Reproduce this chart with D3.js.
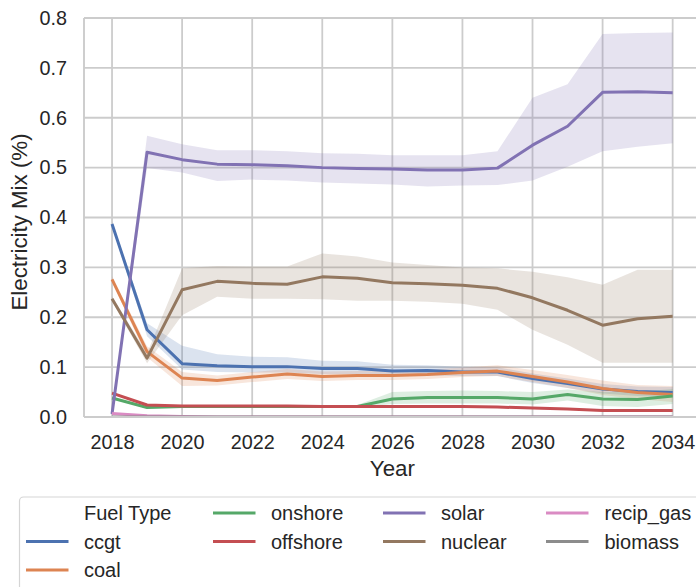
<!DOCTYPE html>
<html>
<head>
<meta charset="utf-8">
<script src="https://cdn.jsdelivr.net/npm/d3@7"></script>
<style>
  html, body { margin: 0; padding: 0; background: #fff; }
  svg { display: block; font-family: "Liberation Sans", Arial, sans-serif; }
</style>
</head>
<body>
<svg id="chart" width="696" height="587"></svg>
<script>
const years = [2018,2019,2020,2021,2022,2023,2024,2025,2026,2027,2028,2029,2030,2031,2032,2033,2034];
const fuelTypes = ["ccgt","coal","onshore","offshore","solar","nuclear","recip_gas","biomass"];
const fuelColors = ["#4c72b0","#dd8452","#55a868","#c44e52","#8172b3","#937860","#da8bc3","#8c8c8c"];

const ccgt    = [0.387,0.175,0.107,0.103,0.101,0.101,0.097,0.097,0.092,0.093,0.090,0.090,0.077,0.067,0.056,0.051,0.049];
const ccgtLo  = [0.382,0.162,0.095,0.090,0.089,0.089,0.086,0.086,0.082,0.083,0.082,0.082,0.068,0.058,0.047,0.042,0.040];
const ccgtHi  = [0.392,0.188,0.143,0.126,0.121,0.120,0.113,0.112,0.105,0.104,0.101,0.100,0.087,0.077,0.066,0.061,0.060];

const coal    = [0.276,0.131,0.078,0.073,0.080,0.086,0.081,0.083,0.083,0.085,0.089,0.092,0.081,0.070,0.057,0.049,0.045];
const coalLo  = [0.270,0.120,0.062,0.063,0.070,0.076,0.072,0.074,0.074,0.076,0.080,0.082,0.070,0.058,0.044,0.036,0.030];
const coalHi  = [0.282,0.142,0.090,0.083,0.090,0.096,0.091,0.092,0.092,0.095,0.099,0.104,0.094,0.084,0.073,0.064,0.062];

const onshore   = [0.038,0.019,0.021,0.021,0.021,0.021,0.021,0.021,0.036,0.039,0.039,0.039,0.036,0.045,0.036,0.035,0.042];
const onshoreLo = [0.036,0.017,0.019,0.019,0.019,0.019,0.019,0.019,0.026,0.027,0.027,0.027,0.025,0.033,0.022,0.020,0.026];
const onshoreHi = [0.040,0.021,0.023,0.023,0.023,0.023,0.023,0.024,0.050,0.052,0.053,0.052,0.050,0.055,0.050,0.050,0.056];

const offshore   = [0.048,0.024,0.022,0.022,0.022,0.022,0.021,0.021,0.021,0.021,0.021,0.020,0.018,0.016,0.013,0.013,0.013];
const offshoreLo = [0.046,0.022,0.020,0.020,0.020,0.020,0.019,0.019,0.019,0.019,0.019,0.018,0.016,0.014,0.011,0.011,0.011];
const offshoreHi = [0.050,0.026,0.024,0.024,0.024,0.024,0.023,0.023,0.023,0.023,0.023,0.022,0.020,0.018,0.015,0.015,0.015];

const solar   = [0.006,0.531,0.516,0.507,0.506,0.504,0.500,0.498,0.497,0.495,0.495,0.499,0.545,0.583,0.651,0.652,0.650];
const solarLo = [0.004,0.499,0.490,0.473,0.476,0.474,0.470,0.468,0.466,0.462,0.464,0.465,0.474,0.502,0.533,0.542,0.549];
const solarHi = [0.008,0.564,0.547,0.535,0.535,0.533,0.529,0.528,0.525,0.525,0.525,0.533,0.640,0.667,0.768,0.770,0.771];

const nuclear   = [0.237,0.118,0.255,0.272,0.268,0.266,0.281,0.278,0.269,0.267,0.264,0.258,0.239,0.214,0.184,0.197,0.202];
const nuclearLo = [0.232,0.108,0.204,0.241,0.237,0.237,0.236,0.233,0.233,0.231,0.227,0.215,0.175,0.145,0.109,0.109,0.109];
const nuclearHi = [0.242,0.128,0.298,0.303,0.302,0.302,0.328,0.322,0.310,0.305,0.300,0.298,0.291,0.280,0.265,0.295,0.295];

const recipGas   = [0.007,0.0025,0.001,0,0,0,0,0,0,0,0,0,0,0,0,0,0];
const recipGasLo = [0.006,0.0015,0.0005,0,0,0,0,0,0,0,0,0,0,0,0,0,0];
const recipGasHi = [0.008,0.0035,0.0015,0,0,0,0,0,0,0,0,0,0,0,0,0,0];

const biomass   = [0,0,0,0,0,0,0,0,0,0,0,0,0,0,0,0,0];

const xTicks = [2018,2020,2022,2024,2026,2028,2030,2032,2034];
const yTicks = [0.0,0.1,0.2,0.3,0.4,0.5,0.6,0.7,0.8];

const seriesMean = [ccgt, coal, onshore, offshore, solar, nuclear, recipGas, biomass];
const seriesLo   = [ccgtLo, coalLo, onshoreLo, offshoreLo, solarLo, nuclearLo, recipGasLo, biomass];
const seriesHi   = [ccgtHi, coalHi, onshoreHi, offshoreHi, solarHi, nuclearHi, recipGasHi, biomass];

const svg = d3.select("#chart");
const pL = 84, pT = 18, pR = 700.7, pB = 417;
const x = d3.scaleLinear().domain([2017.2, 2034.8]).range([pL, pR]);
const y = d3.scaleLinear().domain([0, 0.8]).range([pB, pT]);
const gridColor = "#cccccc";

svg.append("defs").append("clipPath").attr("id","plotclip")
  .append("rect").attr("x", pL).attr("y", pT).attr("width", pR-pL).attr("height", pB-pT);

// grid
const grid = svg.append("g");
grid.selectAll("line.v").data(xTicks).join("line")
  .attr("x1", d => x(d)).attr("x2", d => x(d)).attr("y1", pT).attr("y2", pB)
  .attr("stroke", gridColor).attr("stroke-width", 1.8);
grid.selectAll("line.h").data(yTicks).join("line")
  .attr("x1", pL).attr("x2", pR).attr("y1", d => y(d)).attr("y2", d => y(d))
  .attr("stroke", gridColor).attr("stroke-width", 1.8);

// series
const plot = svg.append("g").attr("clip-path","url(#plotclip)");
const area = d3.area().x((d,i) => x(years[i])).y0(d => y(d[0])).y1(d => y(d[1]));
const line = d3.line().x((d,i) => x(years[i])).y(d => y(d));

fuelTypes.forEach((f, k) => {
  const band = years.map((yr, i) => [seriesLo[k][i], seriesHi[k][i]]);
  plot.append("path").datum(band).attr("d", area)
    .attr("fill", fuelColors[k]).attr("fill-opacity", 0.2).attr("stroke", "none");
});
fuelTypes.forEach((f, k) => {
  plot.append("path").datum(seriesMean[k]).attr("d", line)
    .attr("fill", "none").attr("stroke", fuelColors[k]).attr("stroke-width", 3)
    .attr("stroke-linejoin", "round").attr("stroke-linecap", "butt");
});

// spines
svg.append("line").attr("x1", pL).attr("x2", pL).attr("y1", pT).attr("y2", pB)
  .attr("stroke", gridColor).attr("stroke-width", 1.9);
svg.append("line").attr("x1", pL).attr("x2", pR).attr("y1", pB).attr("y2", pB)
  .attr("stroke", gridColor).attr("stroke-width", 1.9);
svg.append("line").attr("x1", pL).attr("x2", pR).attr("y1", pT).attr("y2", pT)
  .attr("stroke", gridColor).attr("stroke-width", 1.9);

// axes (no tick marks)
const xAxis = d3.axisBottom(x).tickValues(xTicks).tickSize(0).tickPadding(18).tickFormat(d3.format("d"));
const gx = svg.append("g").attr("transform", `translate(0,${pB})`).call(xAxis);
gx.select(".domain").remove();
gx.selectAll("text").attr("font-size", 19.8).attr("fill", "#262626")
  .attr("font-family", "'Liberation Sans', Arial, sans-serif");

const yAxis = d3.axisLeft(y).tickValues(yTicks).tickSize(0).tickPadding(17).tickFormat(d3.format(".1f"));
const gy = svg.append("g").attr("transform", `translate(${pL},0)`).call(yAxis);
gy.select(".domain").remove();
gy.selectAll("text").attr("font-size", 19.8).attr("fill", "#262626")
  .attr("font-family", "'Liberation Sans', Arial, sans-serif");

// axis labels
svg.append("text").attr("x", (pL+pR)/2).attr("y", 476).attr("text-anchor","middle")
  .attr("font-size", 22.3).attr("fill","#262626").text("Year");
svg.append("text").attr("transform", `translate(27,222) rotate(-90)`).attr("text-anchor","middle")
  .attr("font-size", 22.3).attr("fill","#262626").text("Electricity Mix (%)");

// legend
const lg = svg.append("g");
lg.append("rect").attr("x", 19.5).attr("y", 497).attr("width", 700).attr("height", 120).attr("rx", 4)
  .attr("fill", "#ffffff").attr("fill-opacity", 0.8).attr("stroke", "#d5d5d5").attr("stroke-width", 1.2);
const colHandle = [26, 213, 383, 546];
const colText = [84, 271, 441, 604.5];
const rowY = [513, 541.5, 570];
const entries = [{label:"Fuel Type", color:null}].concat(fuelTypes.map((f,k) => ({label:f, color:fuelColors[k]})));
const perCol = [3,2,2,2];
let idx = 0;
perCol.forEach((n, c) => {
  for (let r = 0; r < n; r++) {
    const e = entries[idx++];
    if (e.color) {
      lg.append("line").attr("x1", colHandle[c]).attr("x2", colHandle[c] + 42.5)
        .attr("y1", rowY[r]).attr("y2", rowY[r]).attr("stroke", e.color).attr("stroke-width", 3);
    }
    lg.append("text").attr("x", colText[c]).attr("y", rowY[r]).attr("dy", "0.35em")
      .attr("font-size", 20).attr("fill", "#262626").text(e.label);
  }
});
</script>
</body>
</html>
